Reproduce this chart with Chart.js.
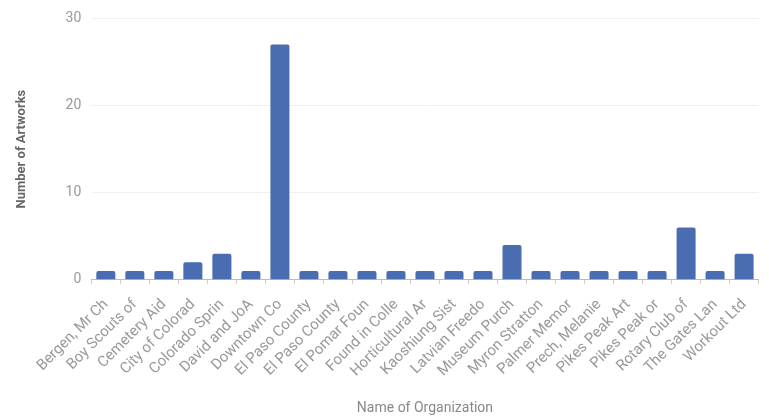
<!DOCTYPE html>
<html>
<head>
<meta charset="utf-8">
<script src="https://cdn.jsdelivr.net/npm/chart.js@4.4.0/dist/chart.umd.min.js"></script>
<style>
    html, body { margin: 0; padding: 0; background: #fff; }
    #wrap { width: 769px; height: 419px; }
</style>
</head>
<body>
<div id="wrap"><canvas id="artworks"></canvas></div>
<script>
const organizations = [
    "Bergen, Mr Ch", "Boy Scouts of", "Cemetery Aid", "City of Colorad",
    "Colorado Sprin", "David and JoA", "Downtown Co", "El Paso County",
    "El Paso County", "El Pomar Foun", "Found in Colle", "Horticultural Ar",
    "Kaoshiung Sist", "Latvian Freedo", "Museum Purch", "Myron Stratton",
    "Palmer Memor", "Prech, Melanie", "Pikes Peak Art", "Pikes Peak or",
    "Rotary Club of", "The Gates Lan", "Workout Ltd",
];
const artworkCounts = [1, 1, 1, 2, 3, 1, 27, 1, 1, 1, 1, 1, 1, 1, 4, 1, 1, 1, 1, 1, 6, 1, 3];
const yTicks = [0, 10, 20, 30];

new Chart(document.getElementById("artworks"), {
    type: "bar",
    data: {
        labels: organizations,
        datasets: [
            {
                data: artworkCounts,
                backgroundColor: "#4a6cb1",
                borderRadius: 2,
                borderSkipped: "bottom",
                barPercentage: 0.82,
                categoryPercentage: 0.8,
            },
        ],
    },
    options: {
        responsive: true,
        maintainAspectRatio: false,
        animation: false,
        layout: {
            padding: { left: 10, right: 8, top: 14, bottom: 0 },
        },
        plugins: {
            legend: { display: false },
            tooltip: { enabled: false },
        },
        scales: {
            x: {
                grid: {
                    display: true,
                    drawOnChartArea: false,
                    drawTicks: true,
                    tickLength: 4,
                    color: "#cccccc",
                },
                border: { color: "#bbbbbb", width: 1 },
                ticks: {
                    minRotation: 45,
                    maxRotation: 45,
                    autoSkip: false,
                    padding: 12,
                    color: "#999999",
                    font: { family: "Roboto", size: 15 },
                },
                title: {
                    display: true,
                    text: "Name of Organization",
                    color: "#888888",
                    font: { family: "Roboto", size: 14 },
                    padding: { top: 8, bottom: 2 },
                },
            },
            y: {
                min: 0,
                max: 30,
                afterBuildTicks: (axis) => {
                    axis.ticks = yTicks.map((v) => ({ value: v }));
                },
                grid: { color: "#f0f0f0", drawTicks: false },
                border: { display: false },
                ticks: {
                    padding: 10,
                    color: "#999999",
                    font: { family: "Roboto", size: 14 },
                },
                title: {
                    display: true,
                    text: "Number of Artworks",
                    color: "#666666",
                    font: { family: "Roboto", size: 13, weight: "bold" },
                    padding: { bottom: 26 },
                },
            },
        },
    },
});
</script>
</body>
</html>
